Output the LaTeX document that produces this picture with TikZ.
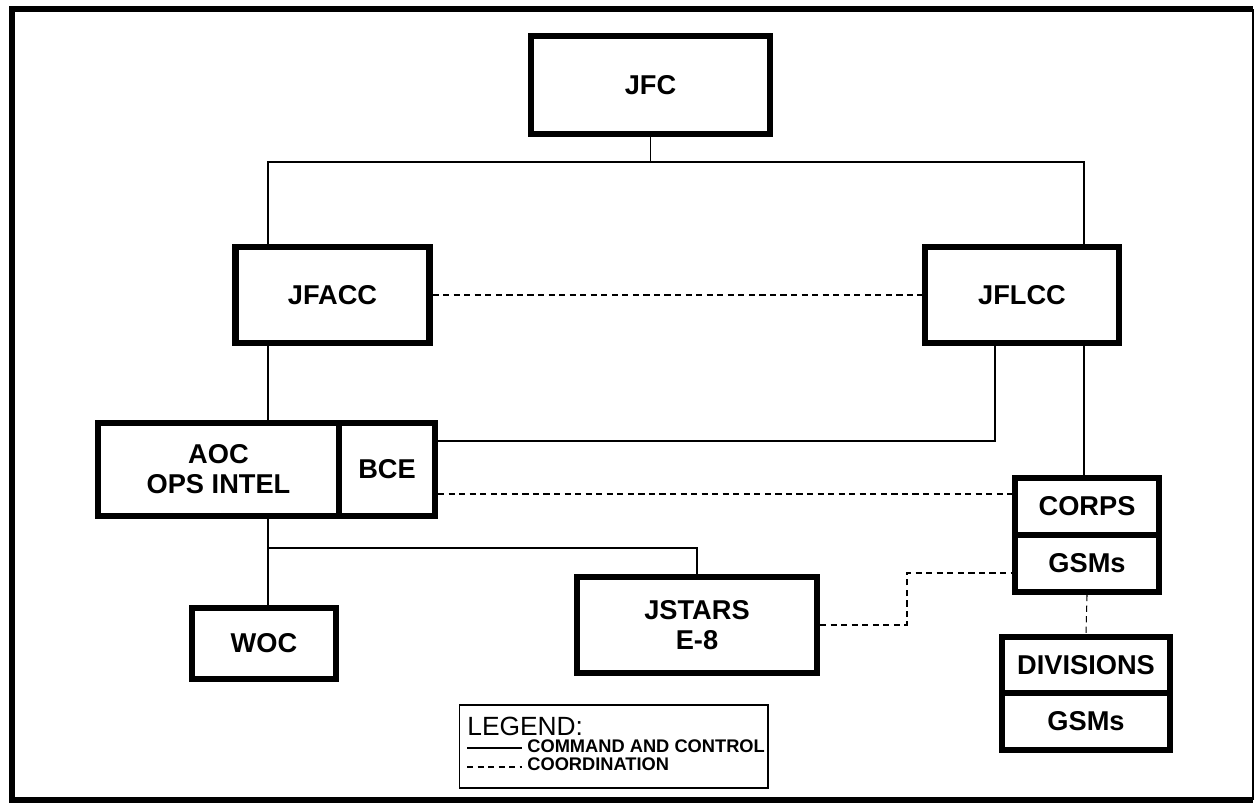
\documentclass[tikz,border=0pt]{standalone}
\usepackage{fontspec}
\setmainfont{Liberation Sans}
\usetikzlibrary{calc}

\begin{document}
\begin{tikzpicture}[x=0.02cm, y=-0.02cm,
  unit/.style={draw=black, line width=3.5pt, fill=white, align=center, inner sep=0pt,
    font=\bfseries\fontsize{15.5}{17}\selectfont},
  cmd/.style={line width=0.6pt, draw=black},
  coord/.style={cmd, dash pattern=on 3.5pt off 2.5pt},
  legtxt/.style={anchor=base west, inner ysep=0pt, inner xsep=0.1cm,
    font=\bfseries\fontsize{10.4}{12}\selectfont}
]
  \useasboundingbox (0,0) rectangle (1257,806);
  \draw[line width=3.5pt] (1253,9) -- (12,9) -- (12,800) -- (1253,800);
  \draw[line width=1pt] (1253,9) -- (1253,800);

  \node[unit, minimum width=4.78cm, minimum height=1.96cm] (jfc) at (650.5,85) {JFC};
  \node[unit, minimum width=3.88cm, minimum height=1.92cm] (jfacc) at (332.5,295) {JFACC};
  \node[unit, minimum width=3.88cm, minimum height=1.92cm] (jflcc) at (1022,295) {JFLCC};
  \node[unit, minimum width=4.82cm, minimum height=1.86cm] (aoc) at (218.5,469.5) {AOC\\OPS INTEL};
  \node[unit, minimum width=1.92cm, minimum height=1.86cm] (bce) at (387,469.5) {BCE};
  \node[unit, minimum width=2.88cm, minimum height=1.42cm] (woc) at (264,643.5) {WOC};
  \node[unit, minimum width=4.8cm, minimum height=1.92cm] (jstars) at (697,625) {JSTARS\\E-8};
  \node[unit, minimum width=2.88cm, minimum height=1.14cm] (corps) at (1087,506.5) {CORPS};
  \node[unit, minimum width=2.88cm, minimum height=1.14cm] (gsm1) at (1087,563.5) {GSMs};
  \node[unit, minimum width=3.36cm, minimum height=1.12cm] (div) at (1086,665) {DIVISIONS};
  \node[unit, minimum width=3.36cm, minimum height=1.14cm] (gsm2) at (1086,721.5) {GSMs};

  \coordinate (busL) at (268,162);
  \coordinate (busR) at (1084,162);
  \coordinate (tieL) at (995,441);
  \coordinate (tieC) at (700,494);
  \coordinate (tieJ) at (907,573);
  \coordinate (fork) at (268,548);

  \draw[cmd] (jfc.south) -- (jfc.south |- busL);
  \draw[cmd] (busL |- jfacc.north) -- (busL) -- (busR) -- (busR |- jflcc.north);
  \draw[cmd] (busL |- jfacc.south) -- (busL |- aoc.north);
  \draw[cmd] (busL |- aoc.south) -- (busL |- woc.north);
  \draw[cmd] (fork) -| (jstars.north);
  \draw[cmd] (tieL |- jflcc.south) |- (bce.east |- tieL);
  \draw[cmd] (busR |- jflcc.south) -- (busR |- corps.north);
  \draw[coord] (jfacc.east) -- (jflcc.west);
  \draw[coord] (bce.east |- tieC) -- (corps.west |- tieC);
  \draw[coord] (jstars.east) -| (tieJ) -- (tieJ -| gsm1.west);
  \draw[coord] (gsm1.south) -- (div.north);

  % legend
  \node[draw=black, line width=0.6pt, minimum width=6.18cm, minimum height=1.66cm] (legend) at (613.5,746.5) {};
  \node[anchor=base west, inner sep=0pt, font=\fontsize{15}{18}\selectfont] (leghead) at (467,735) {LEGEND:};
  \node[legtxt] (lgcc) at (522,752) {COMMAND AND CONTROL};
  \node[legtxt] (lgco) at (522,770) {COORDINATION};
  \coordinate (smpA) at (467,748);
  \coordinate (smpB) at (467,767);
  \draw[cmd] (smpA) -- (smpA -| lgcc.west);
  \draw[coord] (smpB) -- (smpB -| lgco.west);
\end{tikzpicture}
\end{document}
